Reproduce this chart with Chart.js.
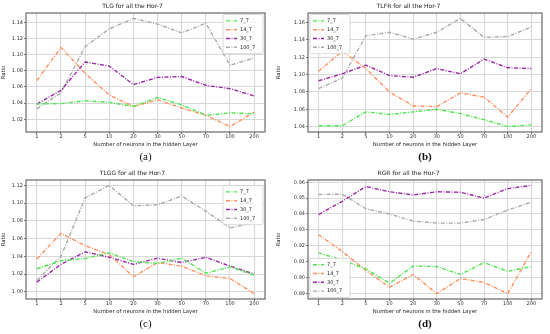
<!DOCTYPE html>
<html>
<head>
<meta charset="utf-8">
<script src="https://cdn.jsdelivr.net/npm/chart.js@4.4.0/dist/chart.umd.min.js"></script>
<style>
  body { margin: 0; background: #fff; width: 550px; height: 334px; overflow: hidden; position: relative; }
  .panel { position: absolute; width: 275px; height: 167px; }
  .panel canvas { position: absolute; left: 0; top: 0; }
  .cap { position: absolute; top: 149px; height: 14px; line-height: 14px; text-align: center;
         font-family: "Liberation Serif", "DejaVu Serif", serif; font-size: 11px; color: #111; }
</style>
</head>
<body>
<div class="panel" style="left:0;top:0"><canvas id="cA" width="275" height="150"></canvas><div class="cap" id="capA">(a)</div></div>
<div class="panel" style="left:275px;top:0"><canvas id="cB" width="275" height="150"></canvas><div class="cap" id="capB" style="font-weight:bold">(b)</div></div>
<div class="panel" style="left:0;top:167px"><canvas id="cC" width="275" height="150"></canvas><div class="cap" id="capC">(c)</div></div>
<div class="panel" style="left:275px;top:167px"><canvas id="cD" width="275" height="150"></canvas><div class="cap" id="capD" style="font-weight:bold">(d)</div></div>
<script>
// x categories
const neurons = ['1', '2', '5', '10', '20', '30', '50', '70', '100', '200'];
const seriesNames = ['7_7', '14_7', '30_7', '100_7'];
const seriesColors = ['#4fe64f', '#ff9060', '#9b27a8', '#aaaaaa'];

// (a) TLG
const tlg77   = [1.039, 1.0395, 1.043, 1.041, 1.036, 1.047, 1.038, 1.025, 1.028, 1.027];
const tlg147  = [1.068, 1.109, 1.077, 1.050, 1.036, 1.044, 1.034, 1.025, 1.011, 1.029];
const tlg307  = [1.039, 1.056, 1.091, 1.086, 1.063, 1.072, 1.073, 1.062, 1.058, 1.049];
const tlg1007 = [1.033, 1.053, 1.110, 1.132, 1.145, 1.138, 1.127, 1.139, 1.087, 1.096];
const tlgTicks = [1.02, 1.04, 1.06, 1.08, 1.10, 1.12, 1.14];

// (b) TLFR
const tlfr77   = [1.041, 1.041, 1.057, 1.054, 1.057, 1.060, 1.055, 1.048, 1.040, 1.042];
const tlfr147  = [1.104, 1.127, 1.107, 1.080, 1.064, 1.063, 1.079, 1.074, 1.051, 1.084];
const tlfr307  = [1.093, 1.101, 1.111, 1.099, 1.097, 1.107, 1.101, 1.118, 1.108, 1.107];
const tlfr1007 = [1.084, 1.096, 1.145, 1.149, 1.141, 1.149, 1.165, 1.143, 1.144, 1.155];
const tlfrTicks = [1.04, 1.06, 1.08, 1.10, 1.12, 1.14, 1.16];

// (c) TLGG
const tlgg77   = [1.026, 1.035, 1.0375, 1.044, 1.034, 1.032, 1.038, 1.021, 1.028, 1.019];
const tlgg147  = [1.037, 1.066, 1.052, 1.042, 1.017, 1.033, 1.029, 1.018, 1.015, 0.998];
const tlgg307  = [1.011, 1.031, 1.045, 1.039, 1.031, 1.038, 1.033, 1.039, 1.029, 1.020];
const tlgg1007 = [1.013, 1.040, 1.106, 1.120, 1.097, 1.098, 1.108, 1.091, 1.072, 1.078];
const tlggTicks = [1.00, 1.02, 1.04, 1.06, 1.08, 1.10, 1.12];

// (d) RGR
const rgr77   = [0.9156, 0.911, 0.9055, 0.8965, 0.9073, 0.907, 0.902, 0.9095, 0.904, 0.907];
const rgr147  = [0.927, 0.9165, 0.9045, 0.894, 0.902, 0.890, 0.8995, 0.897, 0.890, 0.9165];
const rgr307  = [0.9397, 0.948, 0.9573, 0.954, 0.952, 0.954, 0.9537, 0.950, 0.956, 0.958];
const rgr1007 = [0.9523, 0.9525, 0.9433, 0.940, 0.9356, 0.9343, 0.9343, 0.9366, 0.9425, 0.9475];
const rgrTicks = [0.89, 0.90, 0.91, 0.92, 0.93, 0.94, 0.95, 0.96];

const FONT = '"DejaVu Sans", sans-serif';

// frame round the plot area, like matplotlib spines
const framePlugin = {
  id: 'frame',
  afterDatasetsDraw(chart) {
    const a = chart.chartArea, ctx = chart.ctx;
    ctx.save();
    ctx.strokeStyle = '#6a6a6a';
    ctx.lineWidth = 1.2;
    ctx.strokeRect(a.left, a.top, a.right - a.left, a.bottom - a.top);
    ctx.restore();
  }
};

// small boxed legend inside the plot
const boxLegend = {
  id: 'boxLegend',
  afterDraw(chart, args, opts) {
    const a = chart.chartArea, ctx = chart.ctx;
    const rowH = 8.8, w = 40, h = rowH * chart.data.datasets.length + 4;
    let x = opts.corner.includes('l') ? a.left + 2 : a.right - w - 2;
    let y = opts.corner.includes('t') ? a.top + 1.5 + (opts.dy || 0) : a.bottom - h - 1.5;
    ctx.save();
    ctx.fillStyle = 'rgba(255,255,255,0.85)';
    ctx.strokeStyle = '#d0d0d0';
    ctx.lineWidth = 0.8;
    ctx.beginPath();
    ctx.roundRect(x, y, w, h, 1.5);
    ctx.fill();
    ctx.stroke();
    ctx.font = '5px ' + FONT;
    ctx.textBaseline = 'middle';
    chart.data.datasets.forEach((ds, i) => {
      const cy = y + 2 + rowH * (i + 0.5);
      ctx.strokeStyle = ds.borderColor;
      ctx.lineWidth = 1.4;
      ctx.setLineDash(ds.borderDash);
      ctx.beginPath();
      ctx.moveTo(x + 3, cy);
      ctx.lineTo(x + 14, cy);
      ctx.stroke();
      ctx.setLineDash([]);
      ctx.fillStyle = '#222';
      ctx.fillText(ds.label, x + 17, cy);
    });
    ctx.restore();
  }
};

function makeChart(id, capId, title, series, yTicks, corner, plotLeft, plotRight, dy) {
  const all = series.flat();
  const lo = Math.min(...all), hi = Math.max(...all), pad = (hi - lo) * 0.05;
  document.getElementById(capId).style.left = plotLeft + 'px';
  document.getElementById(capId).style.width = (plotRight - plotLeft) + 'px';

  new Chart(document.getElementById(id), {
    type: 'line',
    data: {
      datasets: series.map((vals, i) => ({
        label: seriesNames[i],
        data: vals.map((v, j) => ({ x: j, y: v })),
        borderColor: seriesColors[i],
        borderWidth: 1.4,
        borderDash: [4, 1.5, 1, 1.5],
        pointRadius: 0,
        tension: 0,
        fill: false
      }))
    },
    options: {
      responsive: false,
      animation: false,
      devicePixelRatio: 1,
      layout: { padding: { left: 0, right: 275 - plotRight, top: 0, bottom: 0 } },
      plugins: {
        legend: { display: false },
        tooltip: { enabled: false },
        title: {
          display: true, text: title, color: '#222',
          font: { family: FONT, size: 6, weight: 'normal' },
          padding: { top: 2.4, bottom: 3.4 }
        },
        boxLegend: { corner: corner, dy: dy }
      },
      scales: {
        x: {
          type: 'linear', min: -0.45, max: 9.45,
          afterBuildTicks: s => { s.ticks = neurons.map((n, i) => ({ value: i })); },
          afterFit: s => { s.height = 18; },
          ticks: {
            callback: v => neurons[v], autoSkip: false, maxRotation: 0,
            color: '#333', padding: 0, font: { family: FONT, size: 5 }
          },
          grid: { color: '#d9d9d9', lineWidth: 1.1, tickLength: 2, tickColor: '#777' },
          border: { display: false },
          title: {
            display: true, text: 'Number of neurons in the hidden Layer', color: '#222',
            font: { family: FONT, size: 5.3 }, padding: { top: 0, bottom: 2 }
          }
        },
        y: {
          min: lo - pad, max: hi + pad,
          afterBuildTicks: s => { s.ticks = yTicks.map(v => ({ value: v })); },
          afterFit: s => { s.width = plotLeft; },
          ticks: {
            callback: v => v.toFixed(2), color: '#333', padding: 1,
            font: { family: FONT, size: 5 }
          },
          grid: { color: '#d9d9d9', lineWidth: 1.1, tickLength: 2, tickColor: '#777' },
          border: { display: false },
          title: {
            display: true, text: 'Ratio', color: '#222',
            font: { family: FONT, size: 5.3 }, padding: { top: 0, bottom: 0 }
          }
        }
      }
    },
    plugins: [framePlugin, boxLegend]
  });
}

makeChart('cA', 'capA', 'TLG for all the Hor-7', [tlg77, tlg147, tlg307, tlg1007], tlgTicks, 'tr', 26, 265, 0);
makeChart('cB', 'capB', 'TLFR for all the Hor-7', [tlfr77, tlfr147, tlfr307, tlfr1007], tlfrTicks, 'tl', 33, 267, 0);
makeChart('cC', 'capC', 'TLGG for all the Hor-7', [tlgg77, tlgg147, tlgg307, tlgg1007], tlggTicks, 'tr', 26, 265, 4);
makeChart('cD', 'capD', 'RGR for all the Hor-7', [rgr77, rgr147, rgr307, rgr1007], rgrTicks, 'bl', 33, 267, 0);
</script>
</body>
</html>
